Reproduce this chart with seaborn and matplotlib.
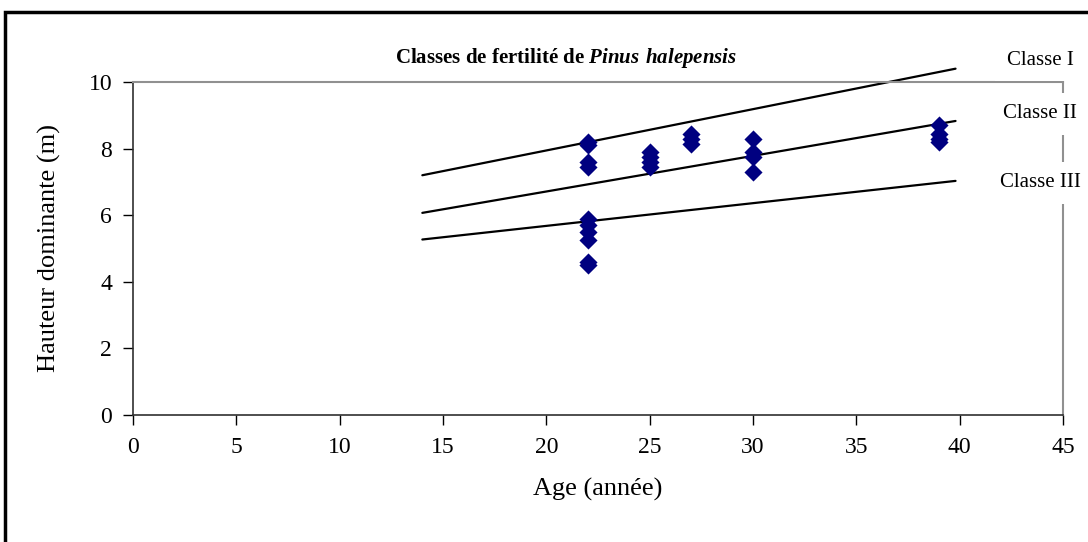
import numpy as np
import pandas as pd
import seaborn as sns
import matplotlib.pyplot as plt
from matplotlib.patches import Rectangle

# donnees mesurees (age, hauteur dominante)
age_pts = [22, 22, 22, 22, 22, 22, 22, 22, 22, 22,
           25, 25, 25, 25,
           27, 27, 27,
           30, 30, 30, 30,
           39, 39, 39, 39]
hauteur_pts = [8.2, 8.1, 7.6, 7.45, 5.9, 5.7, 5.5, 5.25, 4.6, 4.5,
               7.9, 7.75, 7.6, 7.45,
               8.45, 8.3, 8.15,
               8.3, 7.9, 7.75, 7.3,
               8.7, 8.45, 8.3, 8.2]

# courbes des classes de fertilite
age_classe = [14, 39.8]
classe_1 = [7.2, 10.4]
classe_2 = [6.07, 8.83]
classe_3 = [5.27, 7.03]
noms_classes = ['Classe I', 'Classe II', 'Classe III']

sns.set_style('white')
plt.rcParams['font.family'] = ['Liberation Serif', 'DejaVu Serif']
plt.rcParams['mathtext.fontset'] = 'custom'
plt.rcParams['mathtext.bf'] = 'Liberation Serif:italic:bold'
plt.rcParams['mathtext.rm'] = 'Liberation Serif:bold'
plt.rcParams['text.color'] = 'black'
plt.rcParams['axes.labelcolor'] = 'black'
plt.rcParams['xtick.labelcolor'] = 'black'
plt.rcParams['ytick.labelcolor'] = 'black'

fig = plt.figure(figsize=(10.88, 5.42), dpi=100)
ax = fig.add_axes([133/1088, 1 - 415/542, (1063 - 133)/1088, (415 - 82)/542])

pts = pd.DataFrame({'age': age_pts, 'hauteur': hauteur_pts})
courbes = pd.DataFrame({
    'age': age_classe * 3,
    'hauteur': classe_1 + classe_2 + classe_3,
    'classe': [n for n in noms_classes for _ in age_classe],
})

sns.lineplot(data=courbes, x='age', y='hauteur', units='classe', estimator=None,
             color='black', linewidth=1.6, ax=ax, zorder=2)
for ln in ax.lines:
    ln.set_clip_on(False)
sns.scatterplot(data=pts, x='age', y='hauteur', marker='D', color='#000080',
                s=85, edgecolor='#000080', linewidth=0, ax=ax, zorder=3)

ax.set_xlim(0, 45)
ax.set_ylim(0, 10)
ax.set_xticks(np.arange(0, 46, 5))
ax.set_yticks(np.arange(0, 11, 2))
ax.tick_params(axis='both', direction='out', length=7, width=1, color='black',
               labelsize=17, labelcolor='black', pad=8, left=True, bottom=True)
ax.tick_params(axis='x', pad=9)

for s in ['left', 'bottom']:
    ax.spines[s].set_color('#303030')
    ax.spines[s].set_linewidth(1.2)
for s in ['top', 'right']:
    ax.spines[s].set_color('#909090')
    ax.spines[s].set_linewidth(1.5)

ax.set_xlabel('Age (année)', fontsize=19, labelpad=14, color='black')
ax.set_ylabel('Hauteur dominante (m)', fontsize=19, labelpad=20, color='black')

ax.set_title('Classes de fertilité de $\\mathbf{Pinus\\ halepensis}$',
             fontsize=15, fontweight='bold', pad=14, x=0.466, color='black')

# etiquettes des classes a droite
pos_y = [10.66, 9.05, 6.97]
for nom, y in zip(noms_classes, pos_y):
    ax.text(43.9, y, nom, fontsize=15, ha='center', va='center', clip_on=False,
            color='black', zorder=5,
            bbox=dict(boxstyle='square,pad=0.55', fc='white', ec='none'))

# cadre du graphique
fig.patches.append(Rectangle((5/1088, -0.2), 2, 1.2 - 12/542, transform=fig.transFigure,
                             fill=False, ec='black', lw=2.5))

fig.savefig('out.png', dpi=100)
